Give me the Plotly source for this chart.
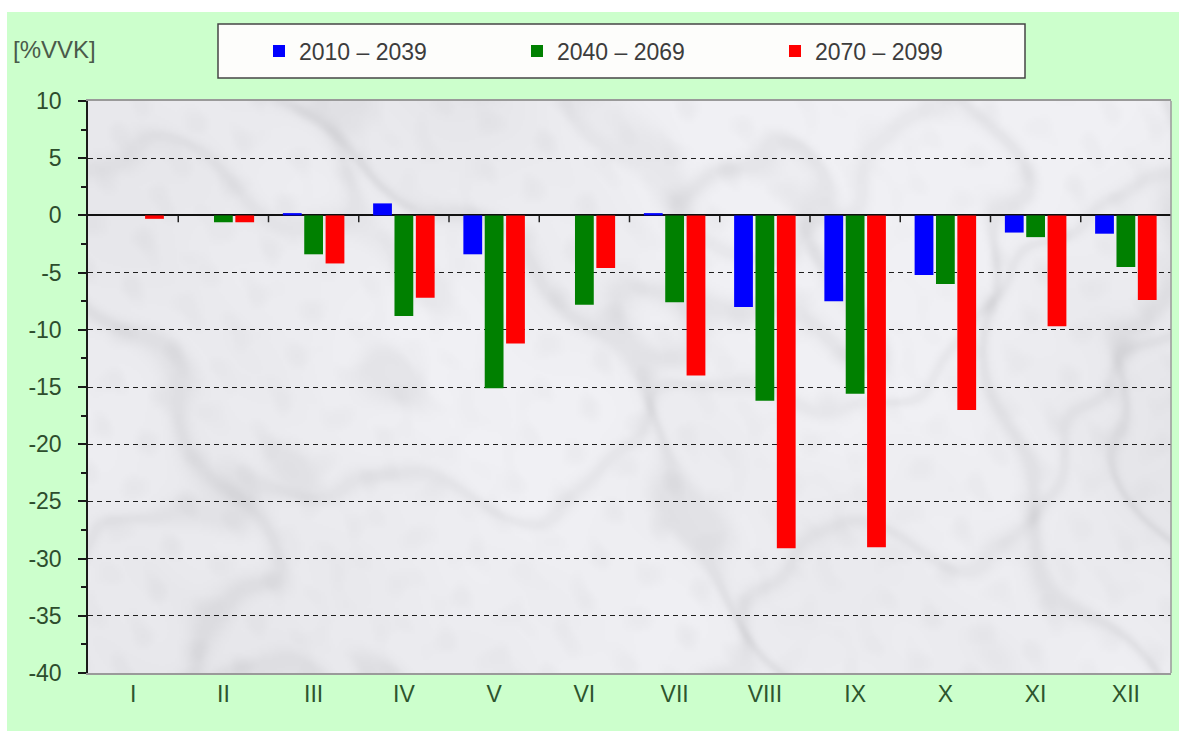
import base64
import struct
import zlib

import numpy as np
import plotly.graph_objects as go

months = ["I", "II", "III", "IV", "V", "VI", "VII", "VIII", "IX", "X", "XI", "XII"]
series_names = ["2010 \u2013 2039", "2040 \u2013 2069", "2070 \u2013 2099"]
p2010_2039 = [0.0, 0.0, 0.2, 1.05, -3.4, 0.0, 0.2, -8.0, -7.5, -5.2, -1.5, -1.6]
p2040_2069 = [0.0, -0.6, -3.4, -8.8, -15.1, -7.8, -7.6, -16.2, -15.6, -6.0, -1.9, -4.5]
p2070_2099 = [-0.3, -0.6, -4.2, -7.2, -11.2, -4.6, -14.0, -29.1, -29.0, -17.0, -9.7, -7.4]
y_ticks = [10, 5, 0, -5, -10, -15, -20, -25, -30, -35, -40]
y_minor = [7.5, 2.5, -2.5, -7.5, -12.5, -17.5, -22.5, -27.5, -32.5, -37.5]
unit_label = "[%VVK]"

colors = ["#0000ff", "#008000", "#ff0000"]
W, H = 1179, 731
L, R, T, B = 88, 8, 101, 58
PW, PH = W - L - R, H - T - B


def px_x(p):
    return (p - L) / PW


def px_y(p):
    return (H - p - B) / PH


def marble_png(w, h):
    """Soft grey marble backdrop built from layered sine waves, encoded as PNG."""
    X, Y = np.meshgrid(np.arange(w, dtype=float), np.arange(h, dtype=float))
    waves = [(0.011, 0.004, 0.3, 1.0), (0.006, 0.017, 1.7, 0.8), (0.023, -0.012, 2.9, 0.5),
             (-0.031, 0.027, 0.8, 0.35), (0.052, 0.041, 4.1, 0.22), (-0.07, 0.09, 2.2, 0.15),
             (0.13, -0.11, 5.3, 0.08)]
    cloud = sum(a * np.sin(fx * X + fy * Y + ph) for fx, fy, ph, a in waves)
    cloud = (cloud - cloud.min()) / (cloud.max() - cloud.min())
    fine = [(0.21, 0.07, 0.4, 1.0), (-0.09, 0.26, 1.9, 0.9), (0.33, -0.19, 3.1, 0.6),
            (0.17, 0.31, 5.0, 0.5), (-0.41, 0.12, 2.6, 0.4)]
    mott = sum(a * np.sin(fx * X + fy * Y + ph + 3.0 * cloud) for fx, fy, ph, a in fine)
    mott = (mott - mott.min()) / (mott.max() - mott.min())
    v1 = np.exp(-(np.sin(0.018 * X - 0.011 * Y + 6.0 * cloud) / 0.2) ** 2)
    v2 = np.exp(-(np.sin(0.009 * X + 0.021 * Y + 5.0 * cloud + 1.3) / 0.18) ** 2)
    g = 242 - 16 * np.clip(cloud - 0.3, 0, 1) - 12 * v1 - 9 * v2 - 14 * np.clip(mott - 0.55, 0, 1)
    g = np.clip(g, 180, 248)
    img = np.stack([g - 1, g - 1, g + 3], axis=-1).clip(0, 255).astype(np.uint8)
    raw = b"".join(b"\x00" + img[r].tobytes() for r in range(h))

    def chunk(tag, data):
        c = tag + data
        return struct.pack(">I", len(data)) + c + struct.pack(">I", zlib.crc32(c) & 0xFFFFFFFF)

    png = b"\x89PNG\r\n\x1a\n" + chunk(b"IHDR", struct.pack(">IIBBBBB", w, h, 8, 2, 0, 0, 0))
    png += chunk(b"IDAT", zlib.compress(raw, 9)) + chunk(b"IEND", b"")
    return "data:image/png;base64," + base64.b64encode(png).decode()


fig = go.Figure()
for name, vals, col in zip(series_names, [p2010_2039, p2040_2069, p2070_2099], colors):
    fig.add_trace(go.Bar(x=months, y=vals, name=name, marker=dict(color=col, line=dict(width=0))))

shapes = [
    # white strips along the top and left edge of the page
    dict(type="rect", xref="paper", yref="paper", x0=px_x(0), x1=px_x(W),
         y0=px_y(12), y1=px_y(0), fillcolor="white", line=dict(width=0), layer="below"),
    dict(type="rect", xref="paper", yref="paper", x0=px_x(0), x1=px_x(7),
         y0=px_y(H), y1=px_y(0), fillcolor="white", line=dict(width=0), layer="below"),
    # legend frame
    dict(type="rect", xref="paper", yref="paper", x0=px_x(218), x1=px_x(1025),
         y0=px_y(78), y1=px_y(24), fillcolor="#fdfdfb",
         line=dict(width=1.5, color="#454545"), layer="below"),
    # right border of the plot area
    dict(type="line", xref="paper", yref="paper", x0=1, x1=1, y0=0, y1=1,
         line=dict(color="#9a9a9a", width=1.5)),
]
# category tick marks on the zero line
for i in range(1, 12):
    shapes.append(dict(type="line", xref="x", yref="y", x0=i - 0.5, x1=i - 0.5,
                       y0=0, y1=-0.6, line=dict(color="#202020", width=1.5)))

fig.update_layout(
    width=W, height=H,
    margin=dict(l=L, r=R, t=T, b=B, pad=0),
    paper_bgcolor="#ccffcc",
    plot_bgcolor="#e6e6e9",
    barmode="group", bargap=0.29, bargroupgap=0.12,
    font=dict(family="Liberation Sans, Arial, sans-serif", size=23, color="#2f4a2f"),
    shapes=shapes,
    images=[dict(source=marble_png(541, 286), xref="paper", yref="paper", x=0, y=1,
                 sizex=1, sizey=1, sizing="stretch", xanchor="left", yanchor="top",
                 layer="below")],
    showlegend=True,
    legend=dict(orientation="h", x=px_x(259), y=px_y(51),
                xanchor="left", yanchor="middle", bgcolor="rgba(0,0,0,0)",
                entrywidth=213, entrywidthmode="pixels", itemwidth=30,
                font=dict(size=23, color="#3c3c3c")),
    annotations=[dict(text=unit_label, xref="paper", yref="paper",
                      x=px_x(11), y=px_y(49), xanchor="left", yanchor="middle",
                      showarrow=False, font=dict(size=24, color="#4a5a4a"))],
)
fig.update_xaxes(showgrid=False, ticks="", showline=True, mirror=True,
                 linecolor="#9a9a9a", linewidth=1.5, tickfont=dict(size=23, color="#2d552d"),
                 ticklabelstandoff=0)
fig.update_yaxes(range=[-40, 10], tickvals=y_ticks, ticktext=[str(v) for v in y_ticks],
                 showgrid=True, gridcolor="#1e1e1e", gridwidth=1, griddash="5px,4px",
                 zeroline=True, zerolinecolor="#111111", zerolinewidth=1.5,
                 ticks="outside", ticklen=8, tickcolor="#1a1a1a", tickwidth=1.5,
                 minor=dict(tickvals=y_minor, ticks="outside", ticklen=5,
                            tickcolor="#1a1a1a", tickwidth=1.5, showgrid=False),
                 showline=True, linecolor="#1a1a1a", linewidth=1.5,
                 tickfont=dict(size=23, color="#2d4d2d"), ticklabelstandoff=12)

fig.write_html("out.html")
